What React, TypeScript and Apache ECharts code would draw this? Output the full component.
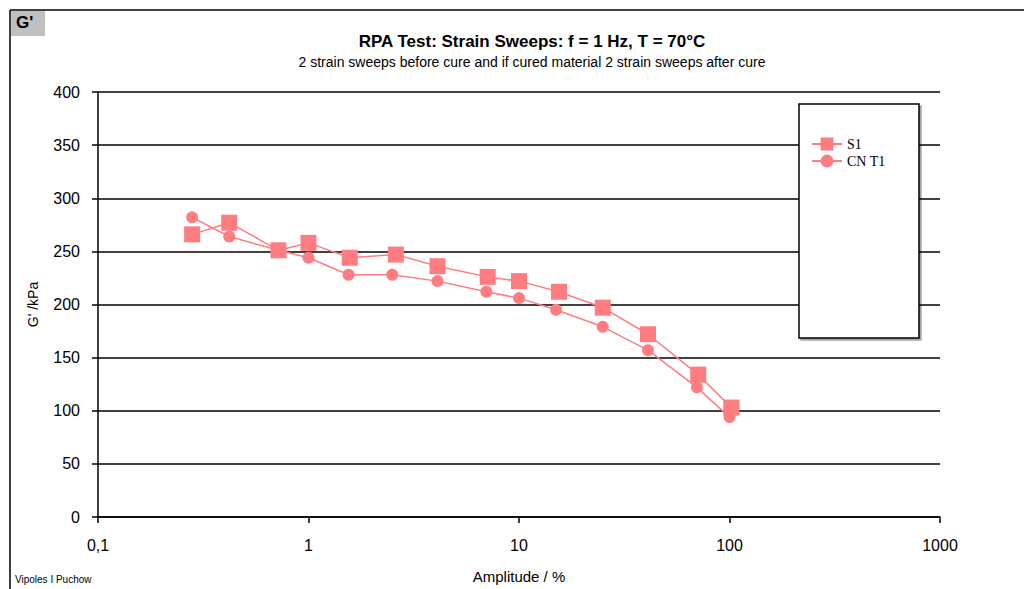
import React, { useEffect, useRef } from "react";
import * as echarts from "echarts";

const amplitudeS1 = [0.28, 0.42, 0.72, 1.0, 1.57, 2.6, 4.1, 7.1, 10, 15.5, 25, 41, 71, 102];
const gS1 = [266, 277, 251, 258, 244, 247, 236, 226, 222, 212, 197, 172, 134, 103];
const amplitudeCNT1 = [0.28, 0.42, 0.72, 1.0, 1.55, 2.5, 4.1, 7.0, 10, 15, 25, 41, 70, 100];
const gCNT1 = [282, 264, 251, 244, 228, 228, 222, 212, 206, 195, 179, 157, 122, 94];
const yTicks = [0, 50, 100, 150, 200, 250, 300, 350, 400];
const xTickLabels: Record<string, string> = { "0.1": "0,1", "1": "1", "10": "10", "100": "100", "1000": "1000" };

const PINK = "#FF7C80";

export default function App() {
  const ref = useRef<HTMLDivElement>(null);
  useEffect(() => {
    if (!ref.current) return;
    const chart = echarts.init(ref.current, null, { renderer: "svg" });
    const zip = (xs: number[], ys: number[]) => xs.map((x, i) => [x, ys[i]]);
    chart.setOption({
      animation: false,
      backgroundColor: "#ffffff",
      title: [
        {
          text: "RPA Test: Strain Sweeps: f = 1 Hz, T = 70°C",
          left: 527,
          top: 28,
          textAlign: "center",
          textStyle: { fontFamily: "Liberation Sans Narrow, Liberation Sans, Arial", fontWeight: "bold", fontSize: 17, color: "#000" },
        },
        {
          text: "2 strain sweeps before cure and if cured material 2 strain sweeps after cure",
          left: 527,
          top: 50,
          textAlign: "center",
          textStyle: { fontFamily: "Liberation Sans Narrow, Liberation Sans, Arial", fontWeight: "normal", fontSize: 14, color: "#000" },
        },
      ],
      grid: { left: 98, right: 84, top: 92, bottom: 72, containLabel: false },
      xAxis: {
        type: "log",
        logBase: 10,
        min: 0.1,
        max: 1000,
        name: "Amplitude / %",
        nameLocation: "middle",
        nameGap: 52,
        nameTextStyle: { fontFamily: "Liberation Sans, Arial", fontSize: 15, color: "#000" },
        axisLine: { lineStyle: { color: "#000", width: 1.5 } },
        axisTick: { show: true, length: 6, inside: false, lineStyle: { color: "#000", width: 1.5 } },
        minorTick: { show: false },
        splitLine: { show: false },
        axisLabel: {
          margin: 20,
          fontFamily: "Liberation Sans, Arial",
          fontSize: 16,
          color: "#000",
          formatter: (v: number) => xTickLabels[String(v)] ?? String(v),
        },
      },
      yAxis: {
        type: "value",
        min: yTicks[0],
        max: yTicks[yTicks.length - 1],
        interval: 50,
        name: "G' /kPa",
        nameLocation: "middle",
        nameGap: 58,
        nameRotate: 90,
        nameTextStyle: { fontFamily: "Liberation Sans, Arial", fontSize: 14, color: "#000" },
        axisLine: { show: true, lineStyle: { color: "#000", width: 1.5 } },
        axisTick: { show: true, length: 6, lineStyle: { color: "#000", width: 1.5 } },
        splitLine: { show: true, lineStyle: { color: "#000", width: 1.5 } },
        axisLabel: { margin: 18, fontFamily: "Liberation Sans, Arial", fontSize: 16, color: "#000" },
      },
      legend: {
        orient: "vertical",
        left: 806,
        top: 132,
        itemWidth: 30,
        itemHeight: 16,
        itemGap: 3,
        z: 20,
        textStyle: { fontFamily: "Liberation Serif, DejaVu Serif, serif", fontSize: 14, color: "#000" },
        data: ["S1", "CNT1"],
        formatter: (n: string) => (n === "CNT1" ? "CN T1" : n),
      },
      graphic: [
        {
          type: "line",
          shape: { x1: 10, y1: 10, x2: 1024, y2: 10 },
          style: { stroke: "#000", lineWidth: 1.5 },
        },
        {
          type: "line",
          shape: { x1: 10, y1: 10, x2: 10, y2: 589 },
          style: { stroke: "#000", lineWidth: 1.5 },
        },
        {
          type: "rect",
          shape: { x: 11, y: 11, width: 34, height: 25 },
          style: { fill: "#c0c0c0" },
        },
        {
          type: "text",
          left: 16,
          top: 14,
          style: { text: "G'", fontFamily: "Liberation Sans, Arial", fontWeight: "bold", fontSize: 17, fill: "#000" },
        },
        {
          type: "rect",
          z: 10,
          shape: { x: 799, y: 104, width: 120, height: 234 },
          style: { fill: "#ffffff", stroke: "#000", lineWidth: 1.5, shadowColor: "rgba(0,0,0,0.35)", shadowOffsetX: 2, shadowOffsetY: 2, shadowBlur: 1 },
        },
        {
          type: "text",
          left: 15,
          top: 574,
          style: { text: "Vipoles I Puchow", fontFamily: "Liberation Sans Narrow, Liberation Sans, Arial", fontSize: 10, fill: "#000" },
        },
      ],
      series: [
        {
          name: "S1",
          type: "line",
          data: zip(amplitudeS1, gS1),
          symbol: "rect",
          symbolSize: 16,
          itemStyle: { color: PINK },
          lineStyle: { color: PINK, width: 1.5 },
          z: 5,
        },
        {
          name: "CNT1",
          type: "line",
          data: zip(amplitudeCNT1, gCNT1),
          symbol: "circle",
          symbolSize: 12,
          itemStyle: { color: PINK },
          lineStyle: { color: PINK, width: 1.5 },
          z: 4,
        },
      ],
    });
    return () => chart.dispose();
  }, []);
  return <div ref={ref} style={{ position: "fixed", left: 0, top: 0, width: 1024, height: 589 }} />;
}
